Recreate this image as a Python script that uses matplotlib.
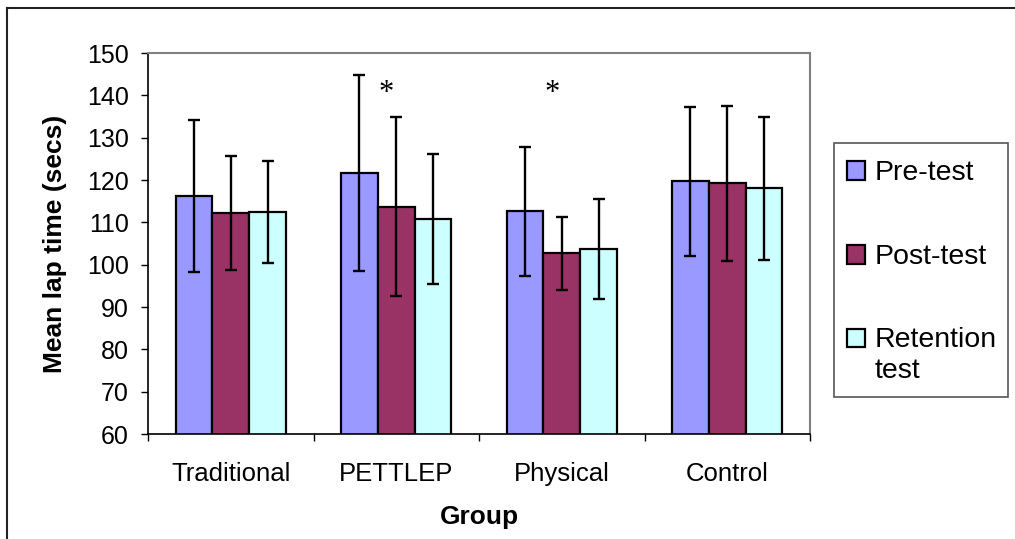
import matplotlib
matplotlib.use("Agg")
import matplotlib.pyplot as plt
import numpy as np
from matplotlib.patches import Rectangle
from matplotlib.lines import Line2D

groups = ["Traditional", "PETTLEP", "Physical", "Control"]
series = ["Pre-test", "Post-test", "Retention\ntest"]
pre_means = [116.2, 121.6, 112.6, 119.7]
post_means = [112.2, 113.7, 102.7, 119.2]
ret_means = [112.4, 110.8, 103.7, 118.0]
pre_sd = [17.9, 23.1, 15.2, 17.6]
post_sd = [13.4, 21.2, 8.6, 18.3]
ret_sd = [12.0, 15.4, 11.8, 16.8]
star_groups = [1, 2]
star_value = 140.5

colors = ["#9999FF", "#993366", "#CCFFFF"]

plt.rcParams['font.family'] = ['Liberation Sans', 'DejaVu Sans']

W, H = 1015, 539
fig = plt.figure(figsize=(W / 100, H / 100), dpi=100)
ax = fig.add_axes([148 / W, 1 - 434 / H, (810 - 148) / W, (434 - 53) / H])

x = np.arange(len(groups))
bw = 1 / 4.5
means = [pre_means, post_means, ret_means]
sds = [pre_sd, post_sd, ret_sd]
for k in range(3):
    pos = x + (k - 1) * bw
    ax.bar(pos, means[k], width=bw, bottom=0, color=colors[k], edgecolor="black",
           linewidth=1.6, zorder=2)
    ax.errorbar(pos, means[k], yerr=sds[k], fmt="none", ecolor="black",
                elinewidth=1.7, capsize=4.5, capthick=1.7, zorder=3)

for g in star_groups:
    ax.text(g - 0.06, star_value, "*", ha="center", va="center", fontsize=22,
            family=["Liberation Serif", "DejaVu Serif"])

ax.set_ylim(60, 150)
ax.set_xlim(-0.5, 3.5)
ax.set_yticks(np.arange(60, 151, 10))
ax.set_xticks(np.arange(-0.5, 3.6, 1.0))
ax.set_xticklabels([])
ax.set_xticks(x, minor=True)
ax.set_xticklabels(groups, minor=True, fontsize=18.5)
ax.tick_params(axis="x", which="minor", length=0, pad=20)
ax.tick_params(axis="x", which="major", length=5, direction="out", width=1)
ax.tick_params(axis="y", length=5, direction="out", width=1, labelsize=18, pad=9)

for s in ["top", "right"]:
    ax.spines[s].set_color("#808080")
    ax.spines[s].set_linewidth(1.5)
for s in ["left", "bottom"]:
    ax.spines[s].set_color("black")
    ax.spines[s].set_linewidth(1.2)

ax.set_ylabel("Mean lap time (secs)", fontsize=19, fontweight="bold", labelpad=14)
ax.set_xlabel("Group", fontsize=19, fontweight="bold", labelpad=14)

# legend drawn in figure pixel coordinates (from top-left)
def fx(px):
    return px / W

def fy(py):
    return 1 - py / H

fig.add_artist(Rectangle((fx(834), fy(397)), fx(1008) - fx(834), fy(143) - fy(397),
                         transform=fig.transFigure, facecolor="white",
                         edgecolor="#555555", linewidth=1.2))
square_bottoms = [179.5, 263.5, 347]
first_baselines = [179.5, 263.5, 347]
line_step = 31.5
for k in range(3):
    fig.add_artist(Rectangle((fx(847), fy(square_bottoms[k])), fx(865) - fx(847),
                             fy(square_bottoms[k] - 18.5) - fy(square_bottoms[k]),
                             transform=fig.transFigure, facecolor=colors[k],
                             edgecolor="black", linewidth=1.6))
    for j, line in enumerate(series[k].split("\n")):
        fig.text(fx(875), fy(first_baselines[k] + j * line_step), line, fontsize=20.5,
                 ha="left", va="baseline")

fig.add_artist(Line2D([7 / W, 1.0], [1 - 8 / H, 1 - 8 / H], transform=fig.transFigure,
                      color="#222222", linewidth=1.5))
fig.add_artist(Line2D([7 / W, 7 / W], [0, 1 - 8 / H], transform=fig.transFigure,
                      color="#222222", linewidth=1.5))

fig.savefig("out.png", dpi=100)
